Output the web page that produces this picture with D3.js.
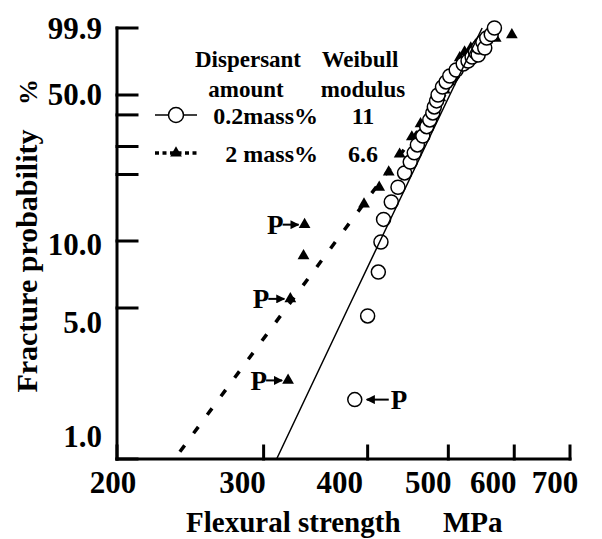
<!DOCTYPE html>
<html>
<head>
<meta charset="utf-8">
<script src="https://cdn.jsdelivr.net/npm/d3@7"></script>
<style>
  body { margin: 0; background: #fff; }
  text { font-family: "Liberation Serif", "Times New Roman", serif; font-weight: bold; fill: #000; }
</style>
</head>
<body>
<svg id="chart" width="602" height="539"></svg>
<script>
// 0.2 mass% dispersant : flexural strength (MPa) / fracture probability (%)
const lowStrength = [386, 400, 412, 415, 418, 427, 435, 443, 450, 455, 459, 466, 471, 475, 479, 481, 484, 486,
  492, 497, 502, 511, 521, 528, 534, 539, 543, 544, 550, 553, 556, 563, 568];
const lowProb = [1.89, 4.6, 7.27, 9.9, 13.0, 16.0, 19.0, 22.4, 25.3, 28.0, 30.5, 33.5, 36.9, 39.5, 42.3, 44.8, 47.4, 50.0,
  59.8, 66.2, 73.6, 80.5, 86.6, 89.2, 92.2, 95.2, 93.5, 97.3, 98.6, 96.9, 99.26, 99.6, 99.9];

// 2 mass% dispersant
const highStrength = [321, 323, 335, 336, 396, 413, 424, 437, 452, 463, 475, 482, 489, 495, 502, 509,
  516, 523, 532, 539, 549, 557, 570, 596];
const highProb = [2.32, 5.5, 8.6, 12.2, 15.6, 19.0, 22.6, 27.6, 33.2, 38.0, 42.3, 46.1, 48.7, 56.1, 66.2, 78.3,
  91.6, 95.1, 96.9, 97.9, 98.6, 98.98, 99.2, 99.57];

// fitted Weibull lines (m = 11 and m = 6.6)
const fitProb = [1, 5, 10, 50, 99.9];
const fitLowStrength = [311, 379, 414, 502, 549];
const fitHighStrength = [234.5, 319.4, 366.6, 494.9, 567.9];

// points marked "P"
const pointedHigh = [0, 1, 3];
const pointedLow = [0];

const xTicks = [200, 300, 400, 500, 600, 700];
const yMajor = [1, 5, 10, 50, 99.9];
const yMinor = [22, 30, 41.5];

const legendLabels = ['0.2mass%', '2 mass%'];
const weibullModulus = ['11', '6.6'];

// label nudges, the original labels sit a little off their ticks
const xLabelDx = [-4, -21, -28, -20, -21, -15];
const yLabelDy = [-23, 14, 3, -1, 0];

const W = p => Math.log(-Math.log(1 - p / 100));

const svg = d3.select('#chart');

const x = d3.scaleLog().domain([200, 700]).range([117, 570]);
const y = d3.scaleLinear().domain(yMajor.map(W)).range([459, 308, 241, 95, 28]);
const X0 = x.range()[0], Y0 = y.range()[0];

// axes, ticks pointing inward
const axes = svg.append('g').attr('stroke', '#000').attr('stroke-width', 3).attr('stroke-linecap', 'square');
axes.append('line').attr('x1', X0).attr('x2', X0).attr('y1', Y0).attr('y2', y(W(99.9)));
axes.append('line').attr('x1', X0).attr('x2', x(700)).attr('y1', Y0).attr('y2', Y0);
axes.selectAll('.ytick').data(yMajor.concat(yMinor)).join('line').attr('class', 'ytick')
  .attr('x1', X0).attr('x2', X0 + 20)
  .attr('y1', d => y(W(d))).attr('y2', d => y(W(d)));
axes.selectAll('.xtick').data(xTicks).join('line').attr('class', 'xtick')
  .attr('x1', d => x(d)).attr('x2', d => x(d))
  .attr('y1', Y0).attr('y2', Y0 - 13);

yMajor.forEach((v, i) => {
  svg.append('text')
    .attr('x', 102).attr('y', y(W(v)) + yLabelDy[i]).attr('dy', '0.35em')
    .attr('text-anchor', 'end').style('font-size', '31px')
    .text(d3.format('.1f')(v));
});
xTicks.forEach((v, i) => {
  svg.append('text')
    .attr('x', x(v) + xLabelDx[i]).attr('y', 493)
    .attr('text-anchor', 'middle').style('font-size', '31px')
    .text(v);
});

svg.append('text').attr('transform', 'translate(37,261) rotate(-90)')
  .attr('text-anchor', 'middle').style('font-size', '30px').text('Fracture probability');
svg.append('text').attr('transform', 'translate(37,92) rotate(-90)')
  .attr('text-anchor', 'middle').style('font-size', '26px').text('%');
svg.append('text').attr('x', 186).attr('y', 532).style('font-size', '29px').text('Flexural strength');
svg.append('text').attr('x', 443).attr('y', 532).style('font-size', '29px').text('MPa');

// fitted lines
const line = d3.line().x(d => x(d[0])).y(d => y(W(d[1])));
svg.append('path').datum(d3.zip(fitHighStrength, fitProb))
  .attr('d', line).attr('fill', 'none').attr('stroke', '#000')
  .attr('stroke-width', 3.5).attr('stroke-dasharray', '8,15').attr('stroke-dashoffset', 14);

const tri = d3.symbol(d3.symbolTriangle, 60);
svg.append('g').selectAll('path')
  .data(d3.zip(highStrength, highProb))
  .join('path')
  .attr('d', tri)
  .attr('transform', d => `translate(${x(d[0])},${y(W(d[1]))})`)
  .attr('fill', '#000');

svg.append('g').selectAll('circle')
  .data(d3.zip(lowStrength, lowProb))
  .join('circle')
  .attr('cx', d => x(d[0]))
  .attr('cy', d => y(W(d[1])))
  .attr('r', 7)
  .attr('fill', '#fff').attr('stroke', '#000').attr('stroke-width', 1.5);

svg.append('path').datum(d3.zip(fitLowStrength, fitProb))
  .attr('d', line).attr('fill', 'none').attr('stroke', '#000').attr('stroke-width', 1.5);

// "P" arrows
svg.append('defs').append('marker')
  .attr('id', 'head').attr('viewBox', '0 0 10 10').attr('refX', 9).attr('refY', 5)
  .attr('markerUnits', 'userSpaceOnUse').attr('markerWidth', 9).attr('markerHeight', 9)
  .attr('orient', 'auto')
  .append('path').attr('d', 'M0,0L10,5L0,10Z').attr('fill', '#000');

pointedHigh.forEach(i => {
  const px = x(highStrength[i]), py = y(W(highProb[i]));
  svg.append('line').attr('x1', px - 22).attr('y1', py).attr('x2', px - 6).attr('y2', py)
    .attr('stroke', '#000').attr('stroke-width', 2).attr('marker-end', 'url(#head)');
  svg.append('text').attr('x', px - 21).attr('y', py).attr('dy', '0.35em')
    .attr('text-anchor', 'end').style('font-size', '27px').text('P');
});
pointedLow.forEach(i => {
  const px = x(lowStrength[i]), py = y(W(lowProb[i]));
  svg.append('line').attr('x1', px + 34).attr('y1', py).attr('x2', px + 12).attr('y2', py)
    .attr('stroke', '#000').attr('stroke-width', 2).attr('marker-end', 'url(#head)');
  svg.append('text').attr('x', px + 36).attr('y', py).attr('dy', '0.35em')
    .style('font-size', '27px').text('P');
});

// legend
const legend = svg.append('g');
legend.append('text').attr('x', 248).attr('y', 67).attr('text-anchor', 'middle').style('font-size', '23px').text('Dispersant');
legend.append('text').attr('x', 246).attr('y', 97).attr('text-anchor', 'middle').style('font-size', '23px').text('amount');
legend.append('text').attr('x', 360).attr('y', 67).attr('text-anchor', 'middle').style('font-size', '23px').text('Weibull');
legend.append('text').attr('x', 363).attr('y', 97).attr('text-anchor', 'middle').style('font-size', '23px').text('modulus');

const rowY = [115, 153];
legendLabels.forEach((lab, i) => {
  legend.append('line').attr('x1', 155).attr('x2', 197).attr('y1', rowY[i]).attr('y2', rowY[i])
    .attr('stroke', '#000')
    .attr('stroke-width', i === 0 ? 1.5 : 3.5)
    .attr('stroke-dasharray', i === 0 ? null : '4,3.5');
  if (i === 0) {
    legend.append('circle').attr('cx', 176).attr('cy', rowY[i]).attr('r', 7.5)
      .attr('fill', '#fff').attr('stroke', '#000').attr('stroke-width', 1.5);
  } else {
    legend.append('path').attr('d', tri).attr('transform', `translate(176,${rowY[i]})`).attr('fill', '#000');
  }
  legend.append('text').attr('x', 318).attr('y', rowY[i] + 9).attr('text-anchor', 'end')
    .style('font-size', '24px').text(lab);
  legend.append('text').attr('x', 363).attr('y', rowY[i] + 9).attr('text-anchor', 'middle')
    .style('font-size', '24px').text(weibullModulus[i]);
});
</script>
</body>
</html>
